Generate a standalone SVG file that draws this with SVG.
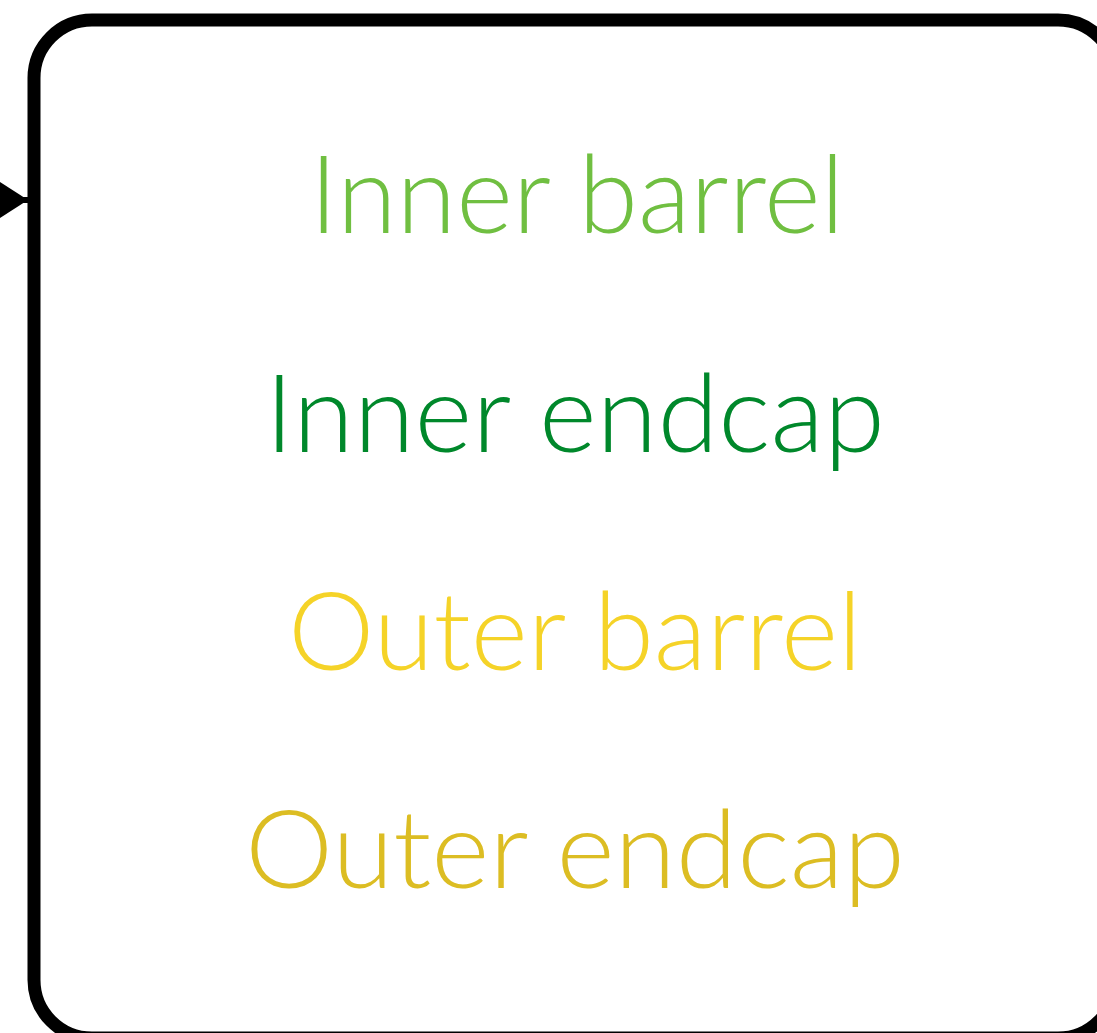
<svg xmlns="http://www.w3.org/2000/svg" width="1097" height="1033" viewBox="0 0 1097 1033">
<style>
.box{fill:#fff;stroke:#000;stroke-width:13}
.lbl{font-family:Lato,"Noto Sans","Liberation Sans",sans-serif;font-size:108px;font-weight:300;text-anchor:middle}
</style>
<defs>
<marker id="ah" markerUnits="userSpaceOnUse" markerWidth="30" markerHeight="36" refX="28" refY="18" orient="auto">
<path d="M0,0 L28,18 L0,36 z" fill="#000"/>
</marker>
</defs>
<rect width="1097" height="1033" fill="#fff"/>
<g id="node-detector">
<rect class="box" x="34" y="20" width="1082" height="1018" rx="58" ry="58"/>
<text class="lbl" x="577" y="233" fill="#70BF41" textLength="535" lengthAdjust="spacingAndGlyphs">Inner barrel</text>
<text class="lbl" x="575" y="452" fill="#00882B" textLength="620" lengthAdjust="spacingAndGlyphs">Inner endcap</text>
<text class="lbl" x="575" y="670" fill="#F5D328" textLength="574" lengthAdjust="spacingAndGlyphs">Outer barrel</text>
<text class="lbl" x="575" y="888" fill="#DCBD23" textLength="660" lengthAdjust="spacingAndGlyphs">Outer endcap</text>
</g>
<g id="connectors">
<line x1="-40" y1="200" x2="28" y2="200" stroke="#000" stroke-width="6" marker-end="url(#ah)"/>
</g>
</svg>
